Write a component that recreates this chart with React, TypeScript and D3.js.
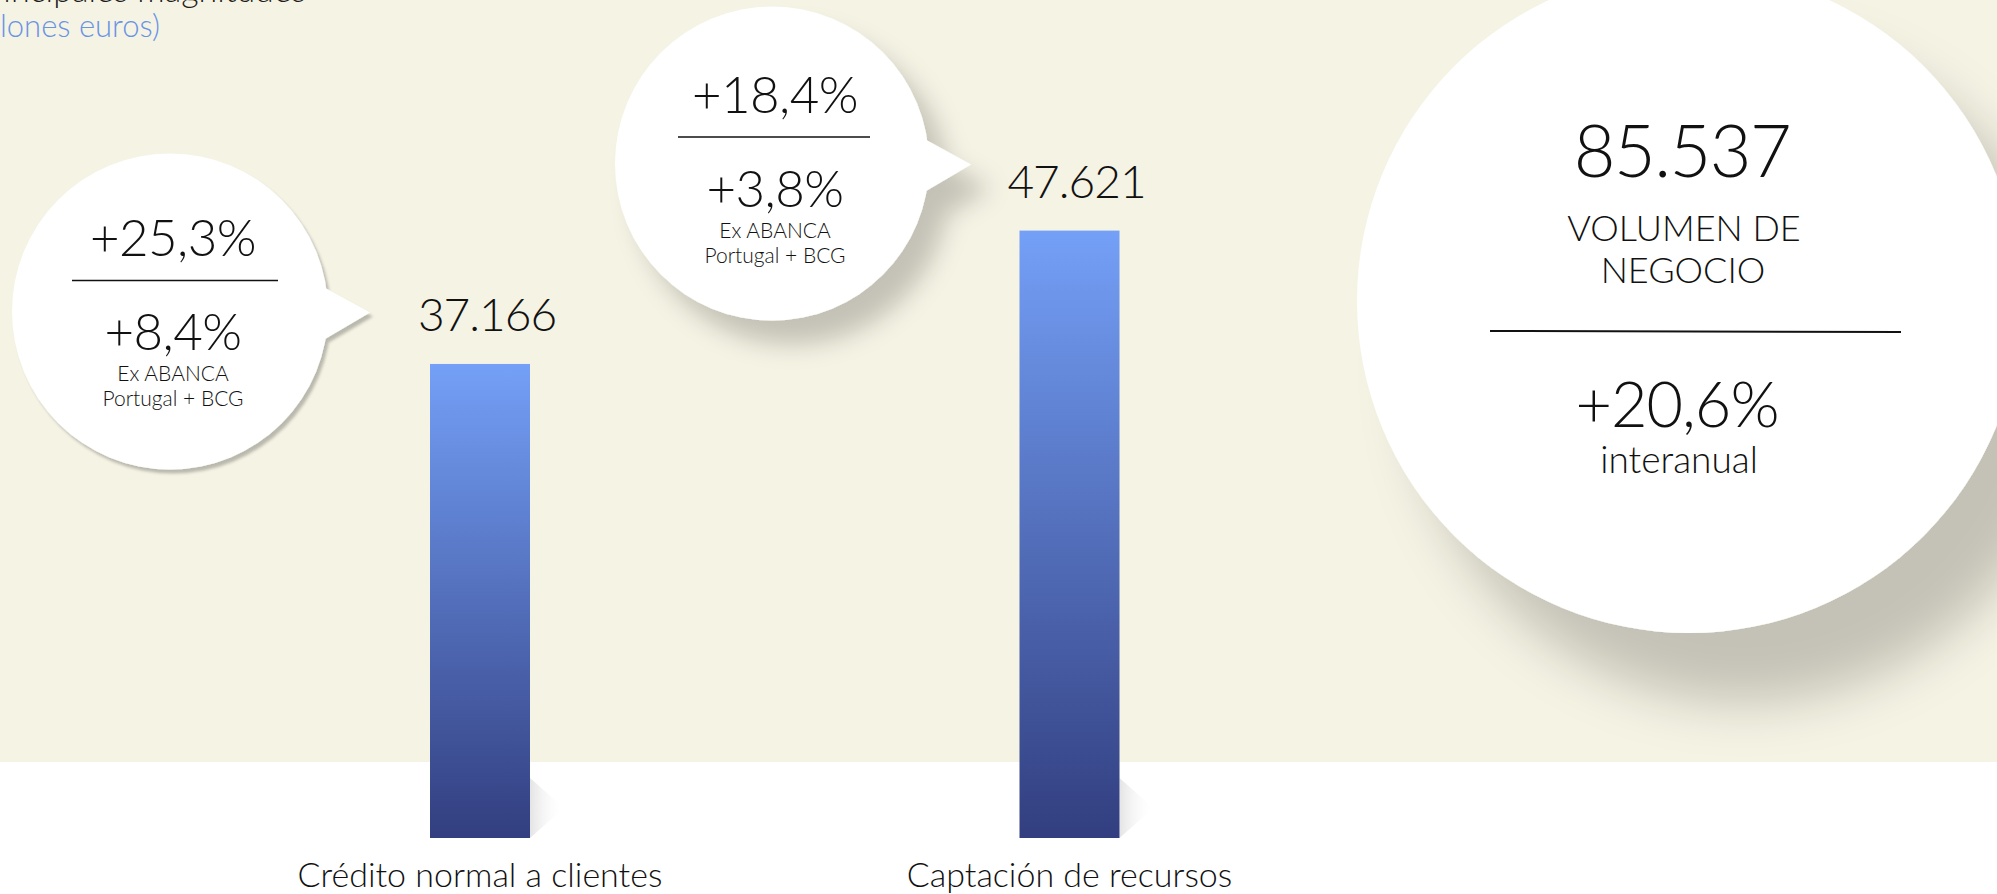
import React, { Component } from 'react'
import * as d3 from 'd3'

// Data
const categories = ['Crédito normal a clientes', 'Captación de recursos']
const values = [37166, 47621]
const growthTotal = ['+25,3%', '+18,4%']
const growthOrganic = ['+8,4%', '+3,8%']
const organicNote = ['Ex ABANCA', 'Portugal + BCG']
const totalVolume = 85537
const totalLabel = ['VOLUMEN DE', 'NEGOCIO']
const totalGrowth = '+20,6%'
const totalNote = 'interanual'
const titleLines = ['Principales magnitudes', '(millones euros)']

const esFormat = d3.formatLocale({
  decimal: ',',
  thousands: '.',
  grouping: [3],
  currency: ['', ' €']
}).format(',')

const FONT = "Lato, 'Open Sans', sans-serif"

class App extends Component {
  svgContainer: any = null

  constructor(props: any) {
    super(props)
    this.setSvgContainer = this.setSvgContainer.bind(this)
    this.drawChart = this.drawChart.bind(this)
  }

  componentDidMount() {
    this.drawChart()
  }

  setSvgContainer(e: any) {
    this.svgContainer = e
  }

  drawChart() {
    const totalW = 1997
    const totalH = 894
    const bandBottom = 762
    const barW = 100

    // Scales
    const x = d3
      .scalePoint<string>()
      .domain(categories)
      .range([480, 1069.5])

    const y = d3
      .scaleLinear()
      .domain([0, 50000])
      .range([838, 200.25])

    d3.select(this.svgContainer).selectAll('*').remove()

    const svg = d3
      .select(this.svgContainer)
      .append('svg')
      .attr('width', totalW)
      .attr('height', totalH)
      .style('position', 'absolute')
      .style('left', 0)
      .style('top', 0)
      .style('font-family', FONT)
      .style('font-weight', 300)

    const defs = svg.append('defs')

    const grad = defs
      .append('linearGradient')
      .attr('id', 'barGrad')
      .attr('x1', 0)
      .attr('y1', 0)
      .attr('x2', 0)
      .attr('y2', 1)
    grad.append('stop').attr('offset', '0%').attr('stop-color', '#74a0f7')
    grad.append('stop').attr('offset', '100%').attr('stop-color', '#323e7f')

    const shGrad = defs
      .append('linearGradient')
      .attr('id', 'barShadow')
      .attr('x1', 0)
      .attr('y1', 0)
      .attr('x2', 1)
      .attr('y2', 0)
    shGrad.append('stop').attr('offset', '0%').attr('stop-color', '#e4e4e4')
    shGrad.append('stop').attr('offset', '100%').attr('stop-color', '#ffffff').attr('stop-opacity', 0)

    const addShadow = (id: string, dx: number, dy: number, sd: number, op: number) => {
      const f = defs
        .append('filter')
        .attr('id', id)
        .attr('x', '-40%')
        .attr('y', '-40%')
        .attr('width', '190%')
        .attr('height', '190%')
      f.append('feDropShadow')
        .attr('dx', dx)
        .attr('dy', dy)
        .attr('stdDeviation', sd)
        .attr('flood-color', '#0a0a00')
        .attr('flood-opacity', op)
    }
    addShadow('shSmall', 3, 4, 1.5, 0.24)
    addShadow('shMid', 20, 24, 12, 0.2)
    addShadow('shBig', 55, 70, 26, 0.2)

    // Background
    svg.append('rect').attr('width', totalW).attr('height', bandBottom).attr('fill', '#f5f3e4')
    svg
      .append('rect')
      .attr('y', bandBottom)
      .attr('width', totalW)
      .attr('height', totalH - bandBottom)
      .attr('fill', '#ffffff')

    // Title (partly out of frame, as in the source)
    svg
      .append('text')
      .attr('x', 306)
      .attr('y', 2)
      .attr('text-anchor', 'end')
      .attr('font-size', 34)
      .attr('fill', '#1d1d1b')
      .text(titleLines[0])
    svg
      .append('text')
      .attr('x', 160)
      .attr('y', 37)
      .attr('text-anchor', 'end')
      .attr('font-size', 31)
      .attr('fill', '#6a93e4')
      .text(titleLines[1])

    // Big circle: total volume
    const big = svg.append('g')
    big
      .append('circle')
      .attr('cx', 1689)
      .attr('cy', 301)
      .attr('r', 332)
      .attr('fill', '#ffffff')
      .attr('filter', 'url(#shBig)')

    const bigTexts = [
      { t: esFormat(totalVolume), x: 1682, y: 177, s: 72, ls: -1.5 },
      { t: totalLabel[0], x: 1684, y: 241, s: 36, ls: 0 },
      { t: totalLabel[1], x: 1683, y: 283, s: 36, ls: 0 },
      { t: totalGrowth, x: 1677, y: 427, s: 63, ls: -1 },
      { t: totalNote, x: 1679, y: 473, s: 37, ls: 0 }
    ]
    big
      .selectAll('text')
      .data(bigTexts)
      .enter()
      .append('text')
      .attr('x', d => d.x)
      .attr('y', d => d.y)
      .attr('text-anchor', 'middle')
      .attr('font-size', d => d.s)
      .attr('letter-spacing', d => d.ls)
      .attr('fill', '#111')
      .text(d => d.t)
    big
      .append('line')
      .attr('x1', 1490)
      .attr('x2', 1901)
      .attr('y1', 331)
      .attr('y2', 332)
      .attr('stroke', '#111')
      .attr('stroke-width', 2)

    // Bars
    const bars = svg
      .selectAll('g.bar')
      .data(categories)
      .enter()
      .append('g')
      .attr('class', 'bar')

    bars
      .append('polygon')
      .attr('points', d => {
        const r = x(d)! + barW / 2
        const b = y(0)
        return `${r},${b} ${r + 34},${b - 30} ${r},${b - 60}`
      })
      .attr('fill', 'url(#barShadow)')

    bars
      .append('rect')
      .attr('x', d => x(d)! - barW / 2)
      .attr('y', (d, i) => y(values[i]))
      .attr('width', barW)
      .attr('height', (d, i) => y(0) - y(values[i]))
      .attr('fill', 'url(#barGrad)')

    bars
      .append('text')
      .attr('x', d => x(d)! + 7)
      .attr('y', (d, i) => y(values[i]) - 33)
      .attr('text-anchor', 'middle')
      .attr('font-size', 46)
      .attr('letter-spacing', -1)
      .attr('fill', '#111')
      .text((d, i) => esFormat(values[i]))

    bars
      .append('text')
      .attr('x', d => x(d)!)
      .attr('y', 887)
      .attr('text-anchor', 'middle')
      .attr('font-size', 34)
      .attr('fill', '#111')
      .text(d => d)

    // Speech bubbles, placed relative to their bar
    const bubbleLayout = [
      { dx: -310, dy: -52.5, r: 158, line: [-98, 108], lineDy: -31, filter: 'shSmall' },
      { dx: -297.5, dy: -67, r: 157, line: [-94, 98], lineDy: -26.5, filter: 'shMid' }
    ]

    categories.forEach((c, i) => {
      const L = bubbleLayout[i]
      const cx = x(c)! + L.dx
      const cy = y(values[i]) + L.dy
      const g = svg.append('g')
      const shape = g.append('g').attr('filter', `url(#${L.filter})`)
      shape.append('circle').attr('cx', cx).attr('cy', cy).attr('r', L.r).attr('fill', '#fff')
      const bx = cx + L.r * 0.99
      shape
        .append('polygon')
        .attr('points', `${bx - 4},${cy - 25} ${cx + L.r + 42},${cy + 1} ${bx - 4},${cy + 29}`)
        .attr('fill', '#fff')

      const ly = cy + L.lineDy
      g.append('line')
        .attr('x1', cx + L.line[0])
        .attr('x2', cx + L.line[1])
        .attr('y1', ly)
        .attr('y2', ly)
        .attr('stroke', '#111')
        .attr('stroke-width', 1.5)

      const tx = cx + 3
      const rows = [
        { t: growthTotal[i], y: ly - 24, s: 51 },
        { t: growthOrganic[i], y: ly + 70, s: 51 },
        { t: organicNote[0], y: ly + 101, s: 21 },
        { t: organicNote[1], y: ly + 126, s: 21 }
      ]
      g.selectAll('text')
        .data(rows)
        .enter()
        .append('text')
        .attr('x', tx)
        .attr('y', d => d.y)
        .attr('text-anchor', 'middle')
        .attr('font-size', d => d.s)
        .attr('letter-spacing', d => (d.s > 40 ? -0.5 : 0))
        .attr('fill', '#111')
        .text(d => d.t)
    })
  }

  render() {
    return <div ref={this.setSvgContainer} />
  }
}

export default App
